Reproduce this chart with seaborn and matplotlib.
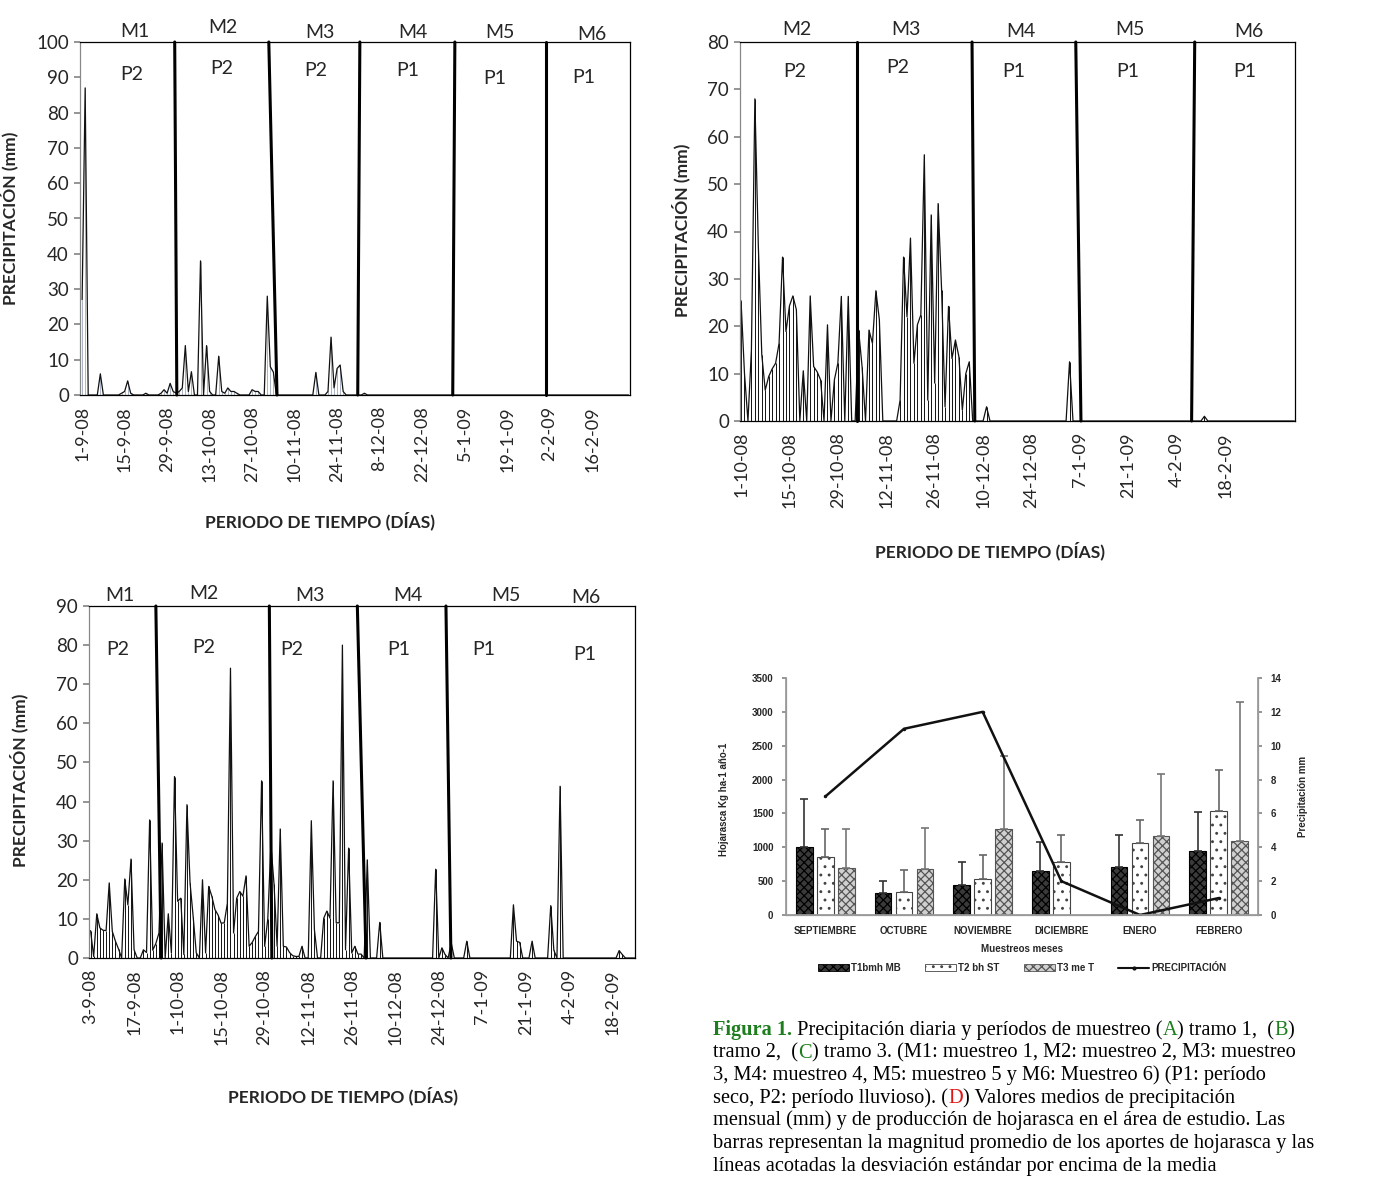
import numpy as np
import pandas as pd
import matplotlib
matplotlib.use('Agg')
import matplotlib.pyplot as plt
import seaborn as sns
from matplotlib.patches import Patch
from matplotlib.lines import Line2D

# Tramo 1 (A): dias con lluvia desde 1-9-08 y precipitacion (mm)
a_dias = [0, 1, 6, 13, 14, 15, 16, 21, 26, 27, 28, 29, 30, 31, 32, 33, 34, 35, 36, 39,
          41, 42, 45, 46, 47, 48, 49, 50, 51, 56, 57, 58, 61, 62, 63, 77, 81, 82, 83, 84,
          85, 86, 93]
a_mm = [27, 87, 6, 0.5, 1, 4, 0.5, 0.5, 0.5, 1.5, 0.5, 3.3, 1, 0.5, 1, 2, 14, 1, 6.6, 38,
        14, 1, 11, 1, 0.5, 2, 1, 1, 0.5, 1.5, 1, 1, 28, 8, 6.5, 6.4, 1, 16.4, 2, 7.5,
        8.5, 1, 0.5]
a_fechas = ['1-9-08', '15-9-08', '29-9-08', '13-10-08', '27-10-08', '10-11-08', '24-11-08',
            '8-12-08', '22-12-08', '5-1-09', '19-1-09', '2-2-09', '16-2-09']
a_cortes_sup = [30.5, 61.5, 91.5, 122.8, 152.8]
a_cortes_inf = [31.2, 64.2, 90.8, 122.1, 152.8]
a_muestreos = ['M1', 'M2', 'M3', 'M4', 'M5', 'M6']
a_periodos = ['P2', 'P2', 'P2', 'P1', 'P1', 'P1']

# Tramo 2 (B): desde 1-10-08
b_dias = [0, 1, 3, 4, 5, 6, 7, 8, 9, 10, 11, 12, 13, 14, 15, 16, 18, 20, 21, 22,
          23, 25, 27, 28, 29, 31, 34, 35, 37, 38, 39, 40, 46, 47, 48, 49, 50, 51, 52, 53,
          54, 55, 56, 57, 58, 59, 60, 61, 62, 63, 64, 65, 66, 71, 95, 134]
b_mm = [25.4, 10, 15, 68, 37, 14, 6.5, 9.4, 11, 12.2, 16.4, 34.6, 18.9, 24.3, 26.4, 23.5, 10.6, 26.4, 11.5, 10.4,
        8.7, 20.3, 8.7, 12.2, 26.3, 26.3, 19.2, 11.5, 19.2, 16.4, 27.5, 21.4, 4.4, 34.6, 22, 38.6, 12.2, 20.3, 22.4, 56.2,
        4.4, 43.5, 8, 45.9, 27.7, 3, 24.2, 13.2, 17.1, 13.6, 2.3, 10, 12.5, 3, 12.5, 1]
b_fechas = ['1-10-08', '15-10-08', '29-10-08', '12-11-08', '26-11-08', '10-12-08', '24-12-08',
            '7-1-09', '21-1-09', '4-2-09', '18-2-09']
b_cortes_sup = [33.5, 66.8, 96.8, 131.2]
b_cortes_inf = [33.5, 67.6, 98.3, 130.3]
b_muestreos = ['M2', 'M3', 'M4', 'M5', 'M6']
b_periodos = ['P2', 'P2', 'P1', 'P1', 'P1']

# Tramo 3 (C): desde 3-9-08
c_dias = [0, 1, 2, 3, 4, 5, 6, 7, 8, 9, 11, 12, 13, 14, 17, 18, 19, 20, 21, 22,
          23, 25, 26, 27, 28, 29, 30, 31, 32, 33, 34, 36, 37, 38, 39, 40, 41, 42, 43, 44,
          45, 46, 47, 48, 49, 50, 51, 52, 53, 54, 55, 56, 57, 58, 59, 60, 61, 62, 63, 64,
          65, 66, 67, 68, 71, 72, 75, 76, 77, 78, 79, 80, 81, 82, 83, 84, 85, 86, 87, 89,
          93, 111, 113, 114, 116, 121, 136, 137, 138, 142, 148, 149, 151, 170, 171]
c_mm = [7.0, 0.4, 11.3, 7.7, 7.1, 7.0, 19.2, 6.8, 4.3, 2.3, 20.2, 13.6, 25.3, 2.1, 2.1, 1.4, 35.3, 2.0, 3.7, 6.4,
        29.4, 11.3, 1.3, 46.4, 14.5, 15.3, 0.9, 39.2, 19.2, 10.6, 1.3, 20, 1.3, 18.3, 15.8, 12.4, 11, 8.9, 9, 14,
        74.1, 6.4, 15.3, 17, 15.8, 21, 3, 4, 5.5, 6.8, 45.3, 3, 10, 29, 19, 3, 33, 3, 2.8, 1.4,
        0.6, 0.4, 0.4, 3, 35.1, 7.2, 10.2, 12, 10.2, 45.3, 9, 9, 80, 2.1, 28.1, 1.3, 3, 1, 1, 25.1,
        9.1, 22.7, 2.6, 0.9, 3.8, 4.3, 13.6, 4.3, 4, 4.3, 13.4, 2, 43.9, 1.9, 0.9]
c_fechas = ['3-9-08', '17-9-08', '1-10-08', '15-10-08', '29-10-08', '12-11-08', '26-11-08',
            '10-12-08', '24-12-08', '7-1-09', '21-1-09', '4-2-09', '18-2-09']
c_cortes_sup = [21.0, 57.5, 85.8, 114.3]
c_cortes_inf = [22.7, 58.3, 88.6, 115.9]
c_muestreos = ['M1', 'M2', 'M3', 'M4', 'M5', 'M6']
c_periodos = ['P2', 'P2', 'P2', 'P1', 'P1', 'P1']

# Panel D: hojarasca (Kg ha-1 año-1) y precipitacion media mensual
meses = ['SEPTIEMBRE', 'OCTUBRE', 'NOVIEMBRE', 'DICIEMBRE', 'ENERO', 'FEBRERO']
tramos = ['T1bmh MB', 'T2 bh ST', 'T3 me T']
t1_media = [1000, 330, 450, 650, 710, 950]
t1_sup = [1720, 500, 780, 1080, 1180, 1520]
t2_media = [850, 340, 530, 780, 1060, 1540]
t2_sup = [1270, 660, 890, 1180, 1400, 2140]
t3_media = [690, 680, 1270, None, 1170, 1090]
t3_sup = [1270, 1290, 2350, None, 2080, 3140]
precip_mes = [7, 11, 12, 2, 0, 1]

sns.set_theme(style='white')
plt.rcParams['font.family'] = ['Lato', 'DejaVu Sans']
plt.rcParams['hatch.linewidth'] = 0.9

fig = plt.figure(figsize=(14, 12), dpi=100)


def panel(rect, n, dias, mm, fechas, ymax, ylim_x, sup, inf, muestreos, mx, my,
          periodos, px, py, area_color, xl, yl):
    ax = fig.add_axes(rect)
    s = np.zeros(n)
    s[dias] = mm
    df = pd.DataFrame({'dia': np.arange(n), 'mm': s})
    ax.vlines(df['dia'], 0, df['mm'], color=area_color, lw=0.7)
    sns.lineplot(data=df, x='dia', y='mm', ax=ax, color='#111111', lw=0.9, estimator=None)
    for a, b in zip(sup, inf):
        ax.plot([a, b], [ymax, 0], color='black', lw=2.2, clip_on=False)
    for t, x, y in zip(muestreos, mx, my):
        ax.text(x, y, t, ha='center', va='center', fontsize=14, clip_on=False)
    for t, x, y in zip(periodos, px, py):
        ax.text(x, y, t, ha='center', va='center', fontsize=14)
    ax.set_xlim(*ylim_x)
    ax.set_ylim(0, ymax)
    ax.set_yticks(np.arange(0, ymax + 1, 10))
    ax.set_xticks(np.arange(0, 14 * len(fechas), 14))
    ax.set_xticklabels(fechas, rotation=90, fontsize=13)
    ax.tick_params(axis='y', labelsize=13.5, length=4, color='#888888', left=True, pad=4)
    ax.tick_params(axis='x', length=0, pad=8)
    for sp in ax.spines.values():
        sp.set_color('black')
        sp.set_linewidth(0.9)
    ax.spines['left'].set_color('#888888')
    ax.set_xlabel('PERIODO DE TIEMPO (DÍAS)', fontsize=12.5, fontweight='bold')
    ax.set_ylabel('PRECIPITACIÓN (mm)', fontsize=12.5, fontweight='bold')
    ax.xaxis.set_label_coords(*xl)
    ax.yaxis.set_label_coords(*yl)
    return ax


panel([80 / 1400, 1 - 395 / 1200, 550 / 1400, 353 / 1200], 181, a_dias, a_mm, a_fechas, 100,
      (-0.7, 180.5), a_cortes_sup, a_cortes_inf,
      a_muestreos, [17.4, 46.4, 78.3, 109, 137.6, 168], [103.1, 104.2, 102.8, 102.8, 102.8, 102],
      a_periodos, [16.4, 46, 77, 107.3, 136, 165.3], [90.7, 92.4, 91.8, 91.8, 89.8, 90],
      '#a9b5c6', (0.436, -0.331), (-0.113, 0.5))

panel([740 / 1400, 1 - 421 / 1200, 555 / 1400, 379 / 1200], 161, b_dias, b_mm, b_fechas, 80,
      (-0.3, 160.2), b_cortes_sup, b_cortes_inf,
      b_muestreos, [16.2, 47.7, 80.9, 112.4, 146.8], [82.6, 82.6, 82.2, 82.6, 82.2],
      b_periodos, [15.6, 45.4, 78.9, 111.8, 145.7], [73.8, 74.6, 73.8, 73.8, 73.8],
      '#111111', (0.45, -0.317), (-0.09, 0.504))

panel([89 / 1400, 1 - 958 / 1200, 546 / 1400, 352 / 1200], 176, c_dias, c_mm, c_fechas, 90,
      (-0.5, 175.1), c_cortes_sup, c_cortes_inf,
      c_muestreos, [9.5, 36.5, 70.6, 102, 133.6, 159.3], [92.8, 93.3, 92.8, 92.8, 92.8, 92.3],
      c_periodos, [8.8, 36.5, 64.8, 99.2, 126.5, 159], [78.8, 79.3, 78.8, 78.8, 78.8, 77.7],
      '#111111', (0.465, -0.366), (-0.112, 0.506))

# ---- Panel D ----
axd = fig.add_axes([786 / 1400, 1 - 915 / 1200, 472 / 1400, 237 / 1200])
filas = []
for i, m in enumerate(meses):
    for t, med in zip(tramos, [t1_media[i], t2_media[i], t3_media[i]]):
        if med is not None:
            filas.append({'mes': m, 'tramo': t, 'hojarasca': med})
dfd = pd.DataFrame(filas)
sns.barplot(data=dfd, x='mes', y='hojarasca', hue='tramo', order=meses, hue_order=tramos,
            width=0.8, gap=0.2, errorbar=None, ax=axd, legend=False)

estilos = {
    'T1bmh MB': dict(face='#3a3a3a', hatch='xxxx', edge='black', err='#333333'),
    'T2 bh ST': dict(face='white', hatch='..', edge='#444444', err='#666666'),
    'T3 me T': dict(face='#d0d0d0', hatch='xxxx', edge='#555555', err='#777777'),
}
sup_por_tramo = {'T1bmh MB': t1_sup, 'T2 bh ST': t2_sup, 'T3 me T': t3_sup}
for cont, t in zip(axd.containers, tramos):
    st = estilos[t]
    for bar in cont:
        if np.isnan(bar.get_height()):
            continue
        bar.set_facecolor(st['face'])
        bar.set_edgecolor(st['edge'])
        bar.set_hatch(st['hatch'])
        bar.set_linewidth(0.8)
        cx = bar.get_x() + bar.get_width() / 2
        i = int(round(cx))
        top = sup_por_tramo[t][i]
        h = bar.get_height()
        axd.errorbar(cx, h, yerr=[[0], [top - h]], fmt='none', ecolor=st['err'],
                     elinewidth=1.2, capsize=3, capthick=1.2)

fuente_d = {'family': 'Liberation Sans', 'weight': 'bold', 'size': 7}
axd.set_xlim(-0.5, 5.5)
axd.set_ylim(0, 3500)
axd.set_yticks(np.arange(0, 3501, 500))
axd.set_xticks(np.arange(len(meses)))
axd.set_xticklabels(meses, fontdict=fuente_d)
axd.set_yticklabels([str(v) for v in np.arange(0, 3501, 500)], fontdict=fuente_d)
axd.set_xlabel('Muestreos meses', fontdict=fuente_d)
axd.set_ylabel('Hojarasca Kg ha-1 año-1', fontdict=fuente_d)
axd.xaxis.set_label_coords(0.5, -0.122)
axd.yaxis.set_label_coords(-0.12, 0.49)
axd.tick_params(axis='y', length=3, color='#888888', left=True, pad=6)
axd.tick_params(axis='x', length=0, pad=8)
for sp in ['left', 'bottom', 'right']:
    axd.spines[sp].set_color('#999999')
    axd.spines[sp].set_linewidth(0.9)
axd.spines['top'].set_visible(False)

axp = axd.twinx()
dfp = pd.DataFrame({'x': np.arange(len(meses)), 'p': precip_mes})
sns.lineplot(data=dfp, x='x', y='p', ax=axp, color='#111111', lw=1.8, marker='o', ms=2.5,
             markeredgewidth=0, estimator=None)
axp.set_ylim(0, 14)
axp.set_yticks(np.arange(0, 15, 2))
axp.set_yticklabels([str(v) for v in np.arange(0, 15, 2)], fontdict=fuente_d)
axp.set_xlim(-0.5, 5.5)
axp.set_ylabel('Precipitación mm', fontdict=fuente_d)
axp.yaxis.set_label_coords(1.085, 0.5)
axp.tick_params(axis='y', length=3, color='#888888', right=True, pad=6)
for sp in ['left', 'bottom', 'right']:
    axp.spines[sp].set_color('#999999')
axp.spines['top'].set_visible(False)

manijas = [Patch(facecolor='#3a3a3a', edgecolor='black', hatch='xxxx', lw=0.6),
           Patch(facecolor='white', edgecolor='#444444', hatch='..', lw=0.6),
           Patch(facecolor='#d0d0d0', edgecolor='#555555', hatch='xxxx', lw=0.6),
           Line2D([0], [0], color='#111111', lw=1.5, marker='o', ms=2)]
axd.legend(manijas, tramos + ['PRECIPITACIÓN'], loc='center', bbox_to_anchor=(0.5, -0.224),
           ncol=4, frameon=False, handlelength=3.2, handleheight=0.7, columnspacing=2.5,
           handletextpad=0.2, prop=fuente_d)

# ---- Pie de figura ----
verde = '#1e7d1e'
rojo = '#e01515'
lineas = [
    [('Figura 1.', verde, 'bold'), (' Precipitación diaria y períodos de muestreo (', 'black', 'normal'),
     ('A', verde, 'normal'), (') tramo 1,  (', 'black', 'normal'), ('B', verde, 'normal'), (')', 'black', 'normal')],
    [('tramo 2,  (', 'black', 'normal'), ('C', verde, 'normal'),
     (') tramo 3. (M1: muestreo 1, M2: muestreo 2, M3: muestreo', 'black', 'normal')],
    [('3, M4: muestreo 4, M5: muestreo 5 y M6: Muestreo 6) (P1: período', 'black', 'normal')],
    [('seco, P2: período lluvioso). (', 'black', 'normal'), ('D', rojo, 'normal'),
     (') Valores medios de precipitación', 'black', 'normal')],
    [('mensual (mm) y de producción de hojarasca en el área de estudio. Las', 'black', 'normal')],
    [('barras representan la magnitud promedio de los aportes de hojarasca y las', 'black', 'normal')],
    [('líneas acotadas la desviación estándar por encima de la media', 'black', 'normal')],
]
renderer = fig.canvas.get_renderer()
tam = 14.7


def ancho(txt, weight):
    t = fig.text(0, 0, txt + '|', fontsize=tam, family='Liberation Serif', weight=weight)
    w1 = t.get_window_extent(renderer).width
    t.set_text('|')
    w2 = t.get_window_extent(renderer).width
    t.remove()
    return w1 - w2


for k, runs in enumerate(lineas):
    x = 713
    y = 1035 + k * 22.6
    for txt, col, w in runs:
        fig.text(x / 1400, 1 - y / 1200, txt, fontsize=tam, family='Liberation Serif',
                 color=col, weight=w, ha='left', va='baseline')
        x += ancho(txt, w)

fig.savefig('out.png', dpi=100)
